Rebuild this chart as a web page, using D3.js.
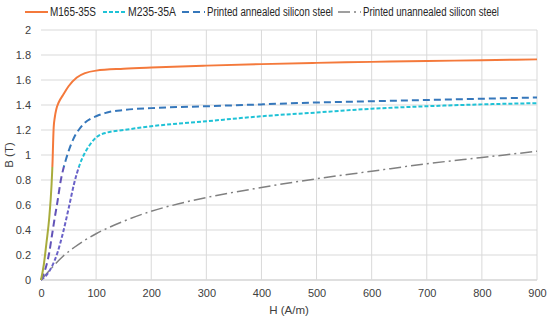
<!DOCTYPE html>
<html>
<head>
  <meta charset="UTF-8">
  <style>
    body { margin: 0; background: #fff; }
    svg text { font-family: "Liberation Sans", Arial, sans-serif; fill: #404040; }
  </style>
</head>
<body>
<svg></svg>
<script src="https://d3js.org/d3.v7.min.js"></script>
<script>

let width = 550, height = 321;
let margin = {top: 30, right: 13, bottom: 41, left: 41};

// data
const seriesNames = ["M165-35S", "M235-35A", "Printed annealed silicon steel", "Printed unannealed silicon steel"];

const hM165 = [0, 5, 10, 15, 19, 21, 22, 23, 25, 28, 32, 40, 50, 65, 80, 100, 150, 200, 300, 400, 500, 600, 700, 800, 900];
const bM165 = [0, 0.12, 0.3, 0.5, 0.75, 0.95, 1.1, 1.22, 1.3, 1.37, 1.42, 1.48, 1.55, 1.62, 1.655, 1.675, 1.69, 1.7, 1.715, 1.727, 1.737, 1.745, 1.752, 1.758, 1.765];

const hM235 = [0, 10, 20, 30, 40, 50, 60, 70, 80, 90, 100, 120, 150, 200, 300, 400, 500, 600, 700, 800, 900];
const bM235 = [0, 0.04, 0.11, 0.22, 0.38, 0.57, 0.77, 0.92, 1.02, 1.09, 1.14, 1.18, 1.2, 1.23, 1.27, 1.31, 1.34, 1.37, 1.39, 1.405, 1.415];

const hAnn = [0, 5, 10, 15, 20, 25, 30, 36, 40, 45, 50, 60, 70, 80, 90, 100, 120, 150, 200, 300, 400, 500, 600, 700, 800, 900];
const bAnn = [0, 0.05, 0.12, 0.22, 0.36, 0.5, 0.63, 0.8, 0.88, 0.96, 1.03, 1.14, 1.21, 1.26, 1.29, 1.31, 1.34, 1.36, 1.375, 1.39, 1.405, 1.42, 1.43, 1.44, 1.45, 1.46];

const hUnann = [0, 20, 40, 60, 80, 100, 150, 200, 250, 300, 400, 500, 600, 700, 800, 900];
const bUnann = [0, 0.1, 0.19, 0.26, 0.32, 0.37, 0.47, 0.55, 0.61, 0.66, 0.74, 0.81, 0.87, 0.93, 0.98, 1.03];

const xTicks = [0, 100, 200, 300, 400, 500, 600, 700, 800, 900];
const yTicks = [0, 0.2, 0.4, 0.6, 0.8, 1, 1.2, 1.4, 1.6, 1.8, 2];

let svg = d3.select("svg")
    .attr("width", width)
    .attr("height", height);

let x = d3.scaleLinear().domain([0, 900]).range([margin.left, width - margin.right]);
let y = d3.scaleLinear().domain([0, 2]).range([height - margin.bottom, margin.top]);

// gridlines
svg.append("g").selectAll("line.h")
    .data(yTicks)
    .enter().append("line")
    .attr("x1", x(0)).attr("x2", x(900))
    .attr("y1", d => y(d)).attr("y2", d => y(d))
    .style("stroke", d => d == 0 ? "#bfbfbf" : "#d9d9d9")
    .style("stroke-width", 1);

svg.append("g").selectAll("line.v")
    .data(xTicks.slice(1))
    .enter().append("line")
    .attr("x1", d => x(d)).attr("x2", d => x(d))
    .attr("y1", y(0)).attr("y2", y(2))
    .style("stroke", "#d9d9d9")
    .style("stroke-width", 1);

// axes (text only)
let xAxis = svg.append("g")
    .attr("transform", "translate(0," + y(0) + ")")
    .call(d3.axisBottom(x).tickValues(xTicks).tickSize(0).tickPadding(9));
let yAxis = svg.append("g")
    .attr("transform", "translate(" + x(0) + ",0)")
    .call(d3.axisLeft(y).tickValues(yTicks).tickFormat(d3.format("~g")).tickSize(0).tickPadding(10));
[xAxis, yAxis].forEach(a => {
    a.select(".domain").remove();
    a.attr("font-family", null).attr("font-size", null);
    a.selectAll("text").style("font-size", "11px").style("fill", "#404040");
});

svg.append("text")
    .attr("x", x(450)).attr("y", 314)
    .attr("text-anchor", "middle")
    .style("font-size", "11.5px")
    .text("H (A/m)");

svg.append("text")
    .attr("transform", "translate(13," + y(1) + ") rotate(-90)")
    .attr("text-anchor", "middle")
    .style("font-size", "11.5px")
    .text("B (T)");

// gradients: lower part of the steep curves looks tinted in the picture
let defs = svg.append("defs");
function tint(id, top, low) {
    let g = defs.append("linearGradient").attr("id", id)
        .attr("gradientUnits", "userSpaceOnUse")
        .attr("x1", 0).attr("x2", 0).attr("y1", y(2)).attr("y2", y(0));
    let cut = (y(0.9) - y(2)) / (y(0) - y(2));
    g.append("stop").attr("offset", cut).attr("stop-color", top);
    g.append("stop").attr("offset", cut).attr("stop-color", low);
    g.append("stop").attr("offset", 1).attr("stop-color", low);
}
tint("gOrange", "#f4793b", "#a8ac3c");
tint("gCyan", "#1fc2d6", "#6a62c8");
tint("gBlue", "#3577bb", "#6253b8");

const series = [
    {h: hM165, b: bM165, stroke: "url(#gOrange)", color: "#f4793b", dash: null, w: 2},
    {h: hM235, b: bM235, stroke: "url(#gCyan)", color: "#1fc2d6", dash: "4,2", w: 2},
    {h: hAnn, b: bAnn, stroke: "url(#gBlue)", color: "#3577bb", dash: "7,4", w: 2},
    {h: hUnann, b: bUnann, stroke: "#808080", color: "#808080", dash: "12,4,2,4", w: 1.5}
];

let line = d3.line()
    .x(d => x(d[0]))
    .y(d => y(d[1]))
    .curve(d3.curveMonotoneX);

series.slice().reverse().forEach(s => {
    svg.append("path")
        .datum(d3.zip(s.h, s.b))
        .attr("d", line)
        .style("fill", "none")
        .style("stroke", s.stroke)
        .style("stroke-width", s.w)
        .style("stroke-dasharray", s.dash);
});

// legend
const legendX = [25, 103, 182, 338];
const legendTextW = [46, 48, 126, 136];
let legend = svg.selectAll("g.legendEntry")
    .data(series)
    .enter()
    .append("g").attr("class", "legendEntry")
    .attr("transform", (d, i) => "translate(" + legendX[i] + ",12)");

legend.append("line")
    .attr("x1", 0).attr("x2", 23)
    .style("stroke", d => d.color)
    .style("stroke-width", d => d.w)
    .style("stroke-dasharray", d => d.dash);

legend.append("text")
    .attr("x", 25).attr("y", 4)
    .attr("textLength", (d, i) => legendTextW[i])
    .attr("lengthAdjust", "spacingAndGlyphs")
    .style("font-size", "12px")
    .style("fill", "#262626")
    .text((d, i) => seriesNames[i]);

</script>
</body>
</html>
